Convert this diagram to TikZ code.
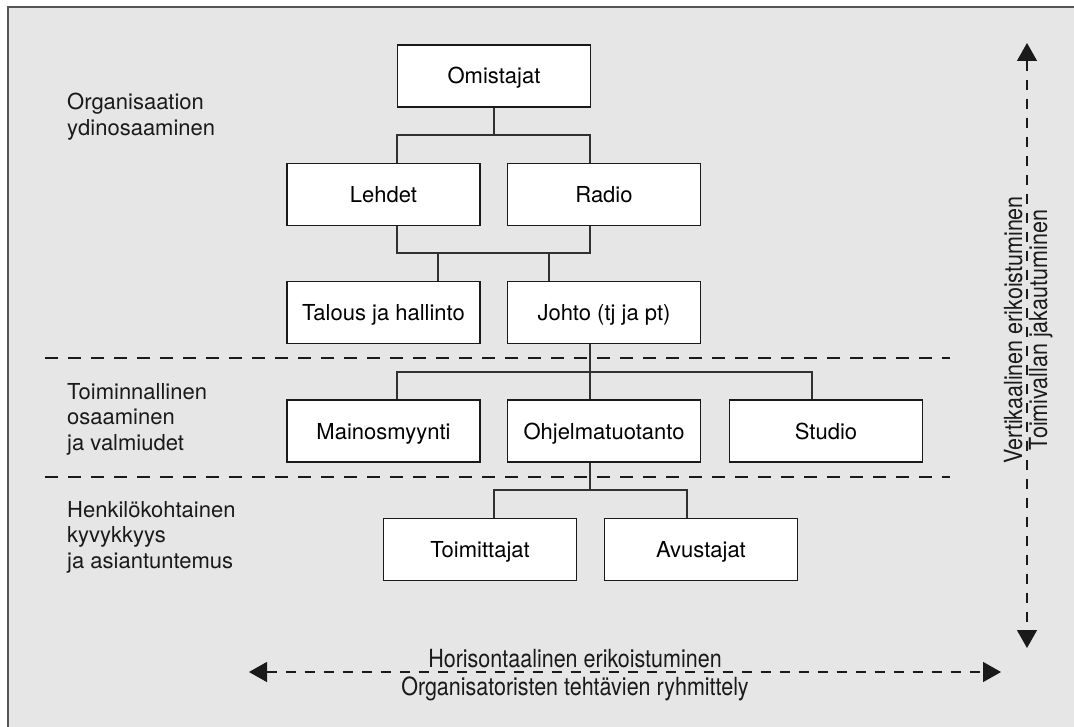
\documentclass[tikz,border=0pt]{standalone}
\usepackage{fontspec}
\setmainfont{TeX Gyre Heros}
\usetikzlibrary{arrows.meta}
\definecolor{bg}{HTML}{E6E6E6}
\definecolor{ink}{HTML}{1A1A1A}
\definecolor{framec}{HTML}{555555}
\newcommand{\lblfont}{\fontsize{22}{25.5}\selectfont}
\newcommand{\axfont}{\fontsize{25}{28}\selectfont}
\newcommand{\cond}[1]{\scalebox{0.86}[1]{#1}}
\begin{document}
\begin{tikzpicture}[x=1pt,y=-1pt,
  box/.style={draw=ink,line width=1.6pt,fill=white,minimum width=193pt,minimum height=62pt,inner sep=0pt,text height=16pt,text depth=0pt,font=\lblfont},
  conn/.style={draw=ink!90,line width=1.3pt},
  sep/.style={draw=ink,line width=1.5pt,dash pattern=on 13pt off 10pt},
  axis/.style={draw=ink,line width=1.4pt,dash pattern=on 10pt off 9pt,{Triangle[width=20pt,length=18pt]}-{Triangle[width=20pt,length=18pt]}},
  lab/.style={inner sep=0pt,align=left,font=\lblfont,text=ink},
  axlab/.style={inner sep=0pt,font=\axfont,text=ink}]
\useasboundingbox (0,0) rectangle (1074,727);
\fill[bg] (8,7) rectangle (1074,727);
\draw[framec,line width=1.2pt] (8,727) -- (8,7) -- (1074,7);

% boxes
\node[box] (om) at (494,76) {Omistajat};
\node[box] (le) at (383.5,194.5) {Lehdet};
\node[box] (ra) at (604,194.5) {Radio};
\node[box] (ta) at (383.5,312.5) {Talous ja hallinto};
\node[box] (jo) at (604,312.5) {Johto (tj ja pt)};
\node[box] (ma) at (383.5,431) {Mainosmyynti};
\node[box] (oh) at (604,431) {Ohjelmatuotanto};
\node[box] (st) at (826,431) {Studio};
\node[box] (to) at (480,549.5) {Toimittajat};
\node[box] (av) at (701,549.5) {Avustajat};

% connectors
\coordinate (a1) at (397,135); \coordinate (a2) at (590,135);
\draw[conn] (om.south) -- (om.south |- a1);
\draw[conn] (le.north -| a1) -- (a1) -- (a2) -- (ra.north -| a2);

\coordinate (b1) at (397,253); \coordinate (b2) at (590,253);
\coordinate (b3) at (438,253); \coordinate (b4) at (549,253);
\draw[conn] (le.south -| b1) -- (b1) -- (b2) -- (ra.south -| b2);
\draw[conn] (b3) -- (ta.north -| b3);
\draw[conn] (b4) -- (jo.north -| b4);

\coordinate (c0) at (590,372); \coordinate (c1) at (397,372); \coordinate (c2) at (812,372);
\draw[conn] (jo.south -| c0) -- (oh.north -| c0);
\draw[conn] (ma.north -| c1) -- (c1) -- (c2) -- (st.north -| c2);

\coordinate (d0) at (590,490); \coordinate (d1) at (494,490); \coordinate (d2) at (687,490);
\draw[conn] (oh.south -| d0) -- (d0);
\draw[conn] (to.north -| d1) -- (d1) -- (d2) -- (av.north -| d2);

% separators
\coordinate (s1l) at (45,358); \coordinate (s1r) at (950,358);
\coordinate (s2l) at (45,477); \coordinate (s2r) at (950,477);
\draw[sep] (s1l) -- (s1r);
\draw[sep] (s2l) -- (s2r);

% left labels
\node[lab,anchor=north west] (l1) at (67,93) {Organisaation\\ydinosaaminen};
\node[lab,anchor=north west] (l2) at (67,383) {Toiminnallinen\\osaaminen\\ja valmiudet};
\node[lab,anchor=north west] (l3) at (67,501) {Henkilökohtainen\\kyvykkyys\\ja asiantuntemus};

% axes
\coordinate (vt) at (1027,43); \coordinate (vb) at (1027,648);
\draw[axis] (vt) -- (vb);
\node[axlab,anchor=base,rotate=90] (v1) at (1022,330) {\cond{Vertikaalinen erikoistuminen}};
\node[axlab,anchor=base,rotate=90] (v2) at (1047,330) {\cond{Toimivallan jakautuminen}};

\coordinate (hl) at (249,672); \coordinate (hr) at (1001,672);
\draw[axis] (hl) -- (hr);
\node[axlab,anchor=base] (h1) at (575,667) {\cond{Horisontaalinen erikoistuminen}};
\node[axlab,anchor=base] (h2) at (575,695) {\cond{Organisatoristen tehtävien ryhmittely}};
\end{tikzpicture}
\end{document}
